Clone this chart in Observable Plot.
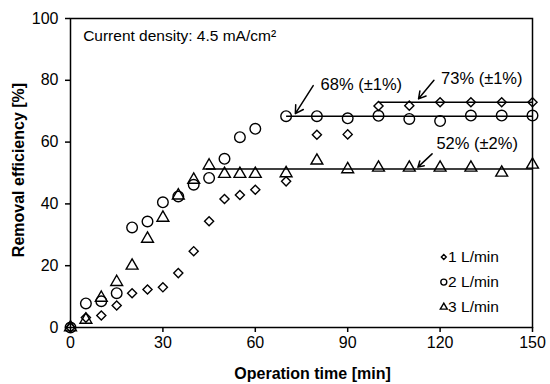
<!DOCTYPE html>
<html>
<head>
<meta charset="utf-8">
<script src="https://cdn.jsdelivr.net/npm/d3@7"></script>
<script src="https://cdn.jsdelivr.net/npm/@observablehq/plot@0.6"></script>
<style>
  html, body { margin: 0; padding: 0; background: #fff; }
  #chart { width: 550px; height: 384px; }
</style>
</head>
<body>
<div id="chart"></div>
<script>
// Data
const times = [0, 5, 10, 15, 20, 25, 30, 35, 40, 45, 50, 55, 60, 70, 80, 90, 100, 110, 120, 130, 140, 150];
const flow1 = [0, 3.2, 3.9, 7.1, 11.1, 12.3, 13.0, 17.6, 24.7, 34.4, 41.6, 42.9, 44.6, 47.3, 62.4, 62.5, 71.7, 71.8, 72.9, 72.9, 72.9, 72.9];
const flow2 = [0, 7.8, 8.5, 11.1, 32.4, 34.3, 40.5, 42.4, 46.2, 48.4, 54.6, 61.6, 64.3, 68.4, 68.4, 67.7, 68.5, 67.5, 66.8, 68.6, 68.6, 68.6];
const flow3 = [0, 2.5, 9.6, 14.7, 20.0, 28.7, 35.5, 42.7, 47.8, 52.4, 49.7, 49.7, 49.7, 49.9, 54.0, 51.2, 51.7, 51.7, 51.7, 51.7, 50.1, 52.7];

const seriesNames = ["1 L/min", "2 L/min", "3 L/min"];
const seriesSymbols = ["diamond2", "circle", "triangle"];

// Plateau lines (mean values) and their labels
const plateauLevel = [72.9, 68.4, 51.3];
const plateauStart = [100, 70, 44];
const plateauEnd = [150, 150, 150];
const plateauLabel = ["73% (\u00b11%)", "68% (\u00b11%)", "52% (\u00b12%)"];

const xTicks = [0, 30, 60, 90, 120, 150];
const yTicks = [0, 20, 40, 60, 80, 100];
const xTitle = "Operation time [min]";
const yTitle = "Removal efficiency [%]";
const note = "Current density: 4.5 mA/cm\u00b2";

// Build tidy tables
const series = [flow1, flow2, flow3];
const points = [];
series.forEach((vals, s) => vals.forEach((v, i) => points.push({t: times[i], v, s})));
const plateaus = plateauLevel.map((y, i) => ({y, x1: plateauStart[i], x2: plateauEnd[i], label: plateauLabel[i]}));

// annotation geometry (data coordinates)
const arrows = [
  {x1: 118, y1: 80, x2: 113, y2: 74},
  {x1: 78.8, y1: 78.3, x2: 73, y2: 69.2},
  {x1: 117.4, y1: 56.2, x2: 112.8, y2: 51.9}
];
const labelPos = [
  {x: 120.3, y: 80.5},
  {x: 81.2, y: 78.6},
  {x: 118.8, y: 59.4}
];
const annotations = plateaus.map((p, i) => ({...p, ...labelPos[i]}));

const legend = seriesNames.map((name, i) => ({name, sym: seriesSymbols[i], y: [22.8, 14.7, 6.6][i]}));
const symR = [4.1, 5.3, 4.4];
const legR = [2.2, 3, 2.6];

const font = "'Liberation Sans', Arial, Helvetica, sans-serif";

const chart = Plot.plot({
  width: 550,
  height: 384,
  marginLeft: 70,
  marginRight: 18,
  marginTop: 18,
  marginBottom: 57,
  style: {fontFamily: font, fontSize: "16px", color: "#000", background: "#fff"},
  x: {domain: [0, 150]},
  y: {domain: [0, 100]},
  marks: [
    Plot.frame({stroke: "#000", strokeWidth: 1.5}),
    Plot.axisX({ticks: xTicks, tickSize: 5, tickPadding: 4, label: null, fontSize: 16, strokeWidth: 1.5}),
    Plot.axisY({ticks: yTicks, tickSize: 5, tickPadding: 7, label: null, fontSize: 16, strokeWidth: 1.5}),
    Plot.text([xTitle], {frameAnchor: "bottom", textAnchor: "middle", dx: 11, dy: 51, text: d => d, fontWeight: "bold", fontSize: 16}),
    Plot.text([yTitle], {frameAnchor: "left", textAnchor: "middle", dx: -52, dy: -3, rotate: -90, text: d => d, fontWeight: "bold", fontSize: 16}),
    Plot.text([note], {x: 4.1, y: 94.2, text: d => d, textAnchor: "start", fontSize: 15.5}),
    // plateau lines
    Plot.link(plateaus, {x1: "x1", x2: "x2", y1: "y", y2: "y", stroke: "#000", strokeWidth: 1.5}),
    // data points
    ...[0, 1, 2].map(s => Plot.dot(points.filter(d => d.s === s), {
      x: "t", y: "v", symbol: () => seriesSymbols[s], r: symR[s],
      stroke: "#000", strokeWidth: 1.4, fill: "none"
    })),
    // arrows and labels
    Plot.arrow(arrows, {x1: "x1", y1: "y1", x2: "x2", y2: "y2", stroke: "#000", strokeWidth: 1.5, headLength: 9, bend: 0}),
    Plot.text(annotations, {x: "x", y: "y", text: "label", textAnchor: "start", fontSize: 16.5}),
    // legend
    ...[0, 1, 2].map(s => Plot.dot([legend[s]], {
      x: 121.2, y: "y", symbol: () => seriesSymbols[s], r: legR[s],
      stroke: "#000", strokeWidth: 1.4, fill: "none"
    })),
    Plot.text(legend, {x: 122.6, y: "y", text: "name", textAnchor: "start", fontSize: 15.5})
  ]
});
document.getElementById("chart").appendChild(chart);
</script>
</body>
</html>
